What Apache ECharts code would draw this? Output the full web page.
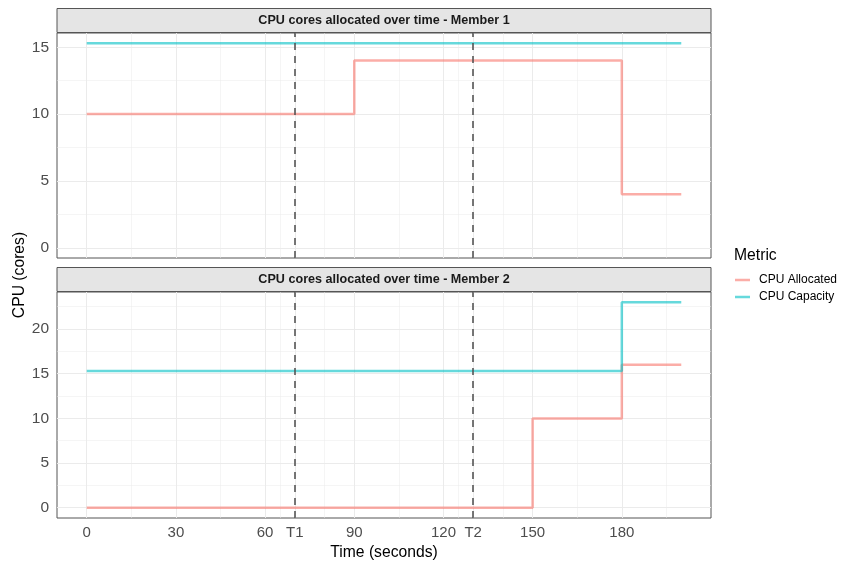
<!DOCTYPE html>
<html>
<head>
<meta charset="utf-8">
<title>CPU cores allocated over time</title>
<script src="https://cdn.jsdelivr.net/npm/echarts@6/dist/echarts.min.js"></script>
<style>
  html, body { margin: 0; padding: 0; background: #fff; }
  #main { width: 842px; height: 563px; }
</style>
</head>
<body>
<div id="main"></div>
<script>
// data
var m1AllocTime = [0, 90, 180, 200];
var m1Alloc = [10, 14, 4, 4];
var m1CapTime = [0, 200];
var m1Cap = [15.3, 15.3];

var m2AllocTime = [0, 150, 180, 200];
var m2Alloc = [0, 10, 16, 16];
var m2CapTime = [0, 180, 200];
var m2Cap = [15.3, 23, 23];

var markerTimes = [70, 130];

// ticks
var xTickValues = [0, 30, 60, 70, 90, 120, 130, 150, 180];
var xTickLabels = ['0', '30', '60', 'T1', '90', '120', 'T2', '150', '180'];
var xMinor = [15, 45, 65, 80, 105, 125, 140, 165, 195];
var y1Ticks = [0, 5, 10, 15];
var y1Minor = [2.5, 7.5, 12.5];
var y2Ticks = [0, 5, 10, 15, 20];
var y2Minor = [2.5, 7.5, 12.5, 17.5, 22.5];

var ALLOC_COL = 'rgba(248,118,109,0.6)';
var CAP_COL = 'rgba(0,191,196,0.6)';
var FONT = 'Liberation Sans, Arial, sans-serif';

function pairs(xs, ys) {
    return xs.map(function (x, i) { return [x, ys[i]]; });
}

// gridlines drawn through markLines on the axes' own scales
function gridLines(idx, xs, ys, width) {
    return {
        type: 'line', xAxisIndex: idx, yAxisIndex: idx, data: [], silent: true, z: 1,
        markLine: {
            silent: true, animation: false, symbol: ['none', 'none'], z: 1,
            label: { show: false },
            emphasis: { disabled: true },
            lineStyle: { color: '#ebebeb', width: width, type: 'solid' },
            data: xs.map(function (v) { return { xAxis: v }; })
                .concat(ys.map(function (v) { return { yAxis: v }; }))
        }
    };
}

function markers(idx) {
    return {
        type: 'line', xAxisIndex: idx, yAxisIndex: idx, data: [], silent: true, z: 6,
        markLine: {
            silent: true, animation: false, symbol: ['none', 'none'], z: 6,
            label: { show: false },
            emphasis: { disabled: true },
            lineStyle: { color: '#555', width: 1.6, type: [7, 6] },
            data: markerTimes.map(function (v) { return { xAxis: v }; })
        }
    };
}

function stepSeries(name, idx, xs, ys, col) {
    return {
        name: name, type: 'line', step: 'end', xAxisIndex: idx, yAxisIndex: idx,
        data: pairs(xs, ys), showSymbol: false, z: 3, animation: false,
        color: col, itemStyle: { color: col },
        emphasis: { disabled: true },
        lineStyle: { color: col, width: 2.5 }
    };
}

function yAxisOpt(idx, ticks, min, max) {
    return {
        type: 'value', gridIndex: idx, min: min, max: max,
        axisLine: { show: false },
        splitLine: { show: false },
        axisTick: { show: true, customValues: ticks, length: 3, lineStyle: { color: '#555' } },
        axisLabel: { customValues: ticks, color: '#4d4d4d', fontSize: 15.5, fontFamily: FONT, margin: 8 }
    };
}

function strip(top, text) {
    return [{
        type: 'rect', shape: { x: 57, y: top, width: 654, height: 24 },
        style: { fill: '#e5e5e5', stroke: '#555', lineWidth: 1 }, z: 10
    }, {
        type: 'text', x: 384, y: top + 12.5,
        style: { text: text, fill: '#1a1a1a', font: 'bold 12.6px ' + FONT, textAlign: 'center', textVerticalAlign: 'middle' },
        z: 11
    }];
}

var chart = echarts.init(document.getElementById('main'));

var option = {
    backgroundColor: '#fff',
    animation: false,
    grid: [
        { left: 57, top: 33, width: 654, height: 225, show: true, borderColor: '#555', borderWidth: 1, backgroundColor: 'transparent' },
        { left: 57, top: 292, width: 654, height: 226, show: true, borderColor: '#555', borderWidth: 1, backgroundColor: 'transparent' }
    ],
    xAxis: [{
        type: 'value', gridIndex: 0, min: -10, max: 210,
        axisLine: { show: false }, axisTick: { show: false },
        axisLabel: { show: false }, splitLine: { show: false }
    }, {
        type: 'value', gridIndex: 1, min: -10, max: 210,
        axisLine: { show: false }, splitLine: { show: false },
        axisTick: { show: true, customValues: xTickValues, length: 3, lineStyle: { color: '#555' } },
        axisLabel: {
            customValues: xTickValues, color: '#4d4d4d', fontSize: 15, fontFamily: FONT, margin: 7,
            formatter: function (v) {
                var i = xTickValues.indexOf(v);
                return i >= 0 ? xTickLabels[i] : '';
            }
        },
        name: 'Time (seconds)', nameLocation: 'middle', nameGap: 27,
        nameTextStyle: { color: '#000', fontSize: 15.7, fontFamily: FONT }
    }],
    yAxis: [
        yAxisOpt(0, y1Ticks, -0.765, 16.065),
        yAxisOpt(1, y2Ticks, -1.15, 24.15)
    ],
    legend: {
        orient: 'vertical', left: 730, top: 269, itemGap: 5,
        icon: 'rect', itemWidth: 15, itemHeight: 2.5,
        data: ['CPU Allocated', 'CPU Capacity'],
        textStyle: { color: '#000', fontSize: 12, fontFamily: FONT, padding: [0, 0, 0, 4] },
        selectedMode: false
    },
    graphic: strip(8.5, 'CPU cores allocated over time - Member 1')
        .concat(strip(267.5, 'CPU cores allocated over time - Member 2'))
        .concat([{
            type: 'text', x: 20, y: 275, rotation: Math.PI / 2,
            style: { text: 'CPU (cores)', fill: '#000', font: '15.7px ' + FONT, textAlign: 'center', textVerticalAlign: 'middle' }
        }, {
            type: 'text', x: 734, y: 256,
            style: { text: 'Metric', fill: '#000', font: '15.7px ' + FONT, textAlign: 'left', textVerticalAlign: 'middle' }
        }]),
    series: [
        gridLines(0, xMinor, y1Minor, 0.5),
        gridLines(0, xTickValues, y1Ticks, 1),
        gridLines(1, xMinor, y2Minor, 0.5),
        gridLines(1, xTickValues, y2Ticks, 1),
        stepSeries('CPU Allocated', 0, m1AllocTime, m1Alloc, ALLOC_COL),
        stepSeries('CPU Capacity', 0, m1CapTime, m1Cap, CAP_COL),
        stepSeries('CPU Allocated', 1, m2AllocTime, m2Alloc, ALLOC_COL),
        stepSeries('CPU Capacity', 1, m2CapTime, m2Cap, CAP_COL),
        markers(0),
        markers(1)
    ]
};

chart.setOption(option);
</script>
</body>
</html>
